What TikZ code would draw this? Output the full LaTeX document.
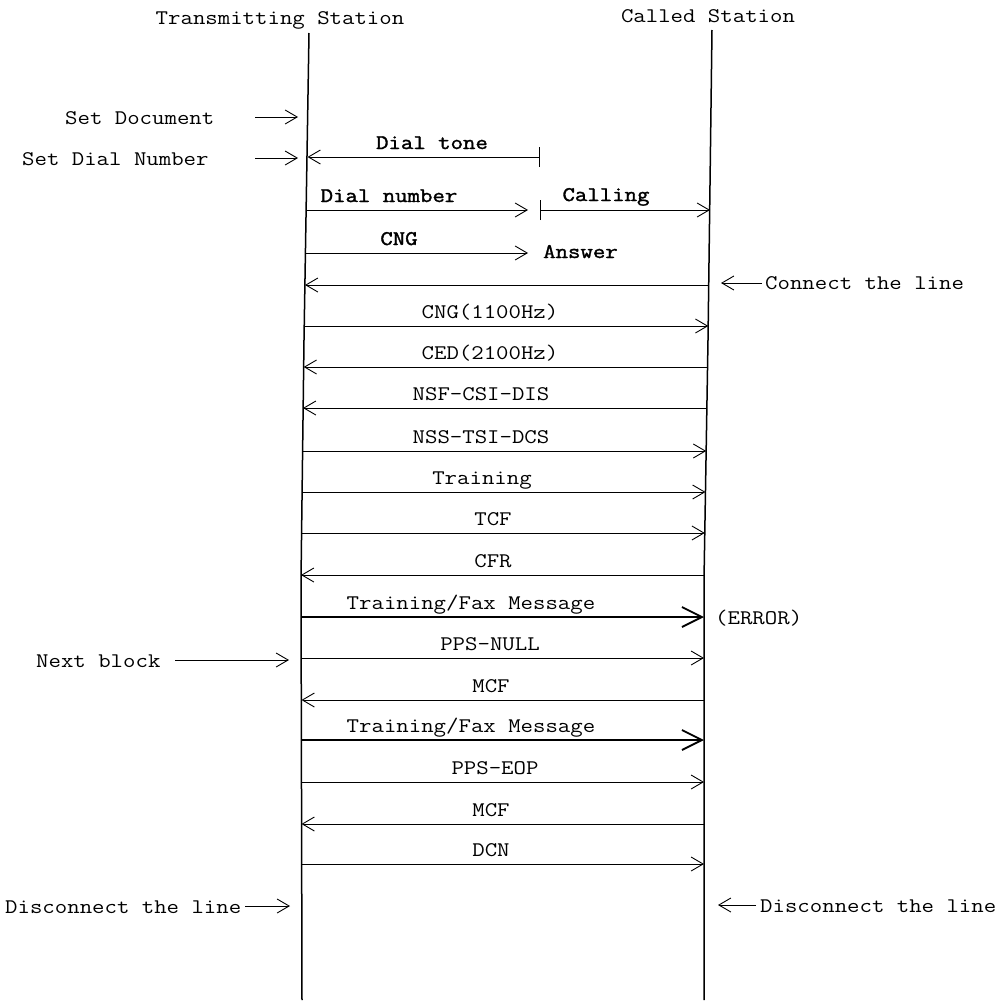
\documentclass[tikz,border=0pt]{standalone}
\usepackage{fontspec}
\newfontfamily\courf[FakeStretch=1.16]{Latin Modern Mono}
\newfontfamily\courfb[FakeStretch=1.16,FakeBold=1.6]{Latin Modern Mono}
\usetikzlibrary{arrows.meta}
\begin{document}
\begin{tikzpicture}[x=1pt,y=1pt,
  txt/.style={font=\courf\fontsize{20.8}{24}\selectfont, inner sep=0pt},
  btxt/.style={font=\courfb\fontsize{20.8}{24}\selectfont, inner sep=0pt},
  life/.style={line width=1.5pt},
  msg/.style={line width=0.9pt, -{Straight Barb[length=12pt,width=14pt,line width=0.9pt]}},
  bigmsg/.style={line width=1.8pt, -{Straight Barb[length=20pt,width=20pt,line width=1.8pt]}},
  barmsg/.style={line width=0.9pt, {Bar[width=20pt,line width=0.9pt]}-{Straight Barb[length=12pt,width=14pt,line width=0.9pt]}},
]
\useasboundingbox (0,0) rectangle (1005,-1001);

% lifelines
\coordinate (LT) at (309,-33);
\coordinate (LB) at (302,-1000);
\coordinate (RT) at (712,-30);
\coordinate (RB) at (704,-1000);
\draw[life] (LT) -- (304,-340) -- (301,-580) -- (LB);
\draw[life] (RT) -- (708,-340) -- (704,-580) -- (RB);

% headers
\node[txt, anchor=base] (hT) at (280,-24) {Transmitting Station};
\node[txt, anchor=base] (hC) at (708,-22) {Called Station};

% side labels
\node[txt, anchor=base west] (setdoc) at (65,-124) {Set Document};
\coordinate (setdocA) at (255,-117);
\coordinate (setdocB) at (298,-117);
\draw[msg] (setdocA) -- (setdocB);

\node[txt, anchor=base west] (setdial) at (22,-165) {Set Dial Number};
\coordinate (setdialA) at (255,-158);
\coordinate (setdialB) at (298,-158);
\draw[msg] (setdialA) -- (setdialB);

\node[txt, anchor=base west] (nextb) at (36,-667) {Next block};
\coordinate (nextA) at (175,-660);
\coordinate (nextB) at (289,-660);
\draw[msg] (nextA) -- (nextB);

\node[txt, anchor=base west] (discL) at (5,-913) {Disconnect the line};
\coordinate (discLA) at (245,-906);
\coordinate (discLB) at (290,-906);
\draw[msg] (discLA) -- (discLB);

\node[txt, anchor=base west] (conn) at (765,-289) {Connect the line};
\coordinate (connA) at (762,-283);
\coordinate (connB) at (721,-283);
\draw[msg] (connA) -- (connB);

\node[txt, anchor=base west] (discR) at (760,-912) {Disconnect the line};
\coordinate (discRA) at (756,-905);
\coordinate (discRB) at (718,-905);
\draw[msg] (discRA) -- (discRB);

\node[txt, anchor=base west] (err) at (715,-624) {(ERROR)};

% upper call setup
\coordinate (dtB) at (540,-157);
\coordinate (dtL) at (307.5,-157);
\draw[barmsg] (dtB) -- (dtL);
\node[btxt, anchor=base] (dt) at (432,-149) {Dial tone};

\coordinate (dnL) at (306,-210);
\coordinate (dnM) at (528,-210);
\draw[msg] (dnL) -- (dnM);
\node[btxt, anchor=base] (dn) at (389,-202) {Dial number};

\coordinate (clB) at (540,-210);
\coordinate (clR) at (710,-210);
\draw[barmsg] (clB) -- (clR);
\node[btxt, anchor=base] (cl) at (606,-201) {Calling};

\coordinate (cngL) at (305.5,-253);
\coordinate (cngM) at (528,-253);
\draw[msg] (cngL) -- (cngM);
\node[btxt, anchor=base] (cng) at (399,-245) {CNG};
\node[btxt, anchor=base west] (ans) at (543,-258) {Answer};

\coordinate (lnR) at (709,-285);
\coordinate (lnL) at (305,-285);
\draw[msg] (lnR) -- (lnL);

% messages: y / left x / right x / label / label x / direction
\foreach \y/\xl/\xr/\lab/\lx/\d [count=\i] in {
  326/304.3/708.3/CNG(1100Hz)/490/r,
  367/303.7/707.6/CED(2100Hz)/490/l,
  408/303/707/NSF-CSI-DIS/481/l,
  451/302.5/706.2/NSS-TSI-DCS/481/r,
  492/302/705.5/Training/482/r,
  533/301.6/704.8/TCF/493/r,
  575/301/704/CFR/493/l,
  617/301.2/704/Training\slash Fax Message/471/R,
  658/301.5/704/PPS-NULL/490/r,
  700/301.5/704/MCF/491/l,
  740/301.5/704/Training\slash Fax Message/471/R,
  782/301.5/704/PPS-EOP/495/r,
  824/301.5/704/MCF/491/l,
  864/301.5/704/DCN/491/r}
{
  \coordinate (mL\i) at (\xl,-\y);
  \coordinate (mR\i) at (\xr,-\y);
  \node[txt, anchor=base] (lab\i) at (\lx,-\y+8) {\lab};
  \if\d r \draw[msg] (mL\i) -- (mR\i); \fi
  \if\d l \draw[msg] (mR\i) -- (mL\i); \fi
  \if\d R \draw[bigmsg] (mL\i) -- (mR\i); \fi
}
\end{tikzpicture}
\end{document}
